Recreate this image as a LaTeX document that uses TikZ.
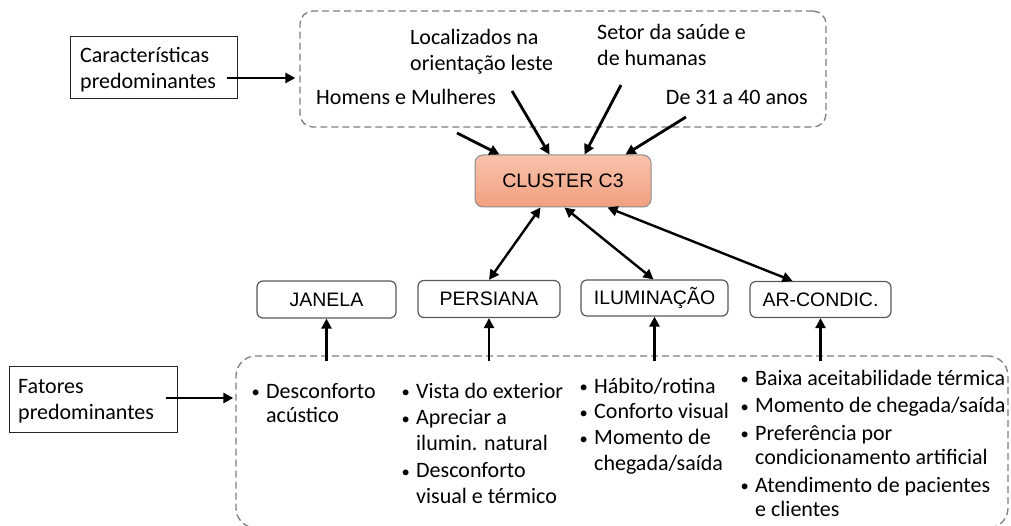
\documentclass[tikz,border=0pt]{standalone}
\usepackage{fontspec}
\setmainfont{Carlito}
\newfontfamily\arialfam{Liberation Sans}
\usetikzlibrary{arrows.meta,calc}
\newcommand\mybul{\makebox[21pt][c]{\raisebox{0.5pt}{\scalebox{0.75}{\textbullet}}}}
\newcommand\mycont{\hspace*{21pt}}
\newcommand\mystrut{\rule{0pt}{17pt}}
\definecolor{dashgray}{HTML}{7F7F7F}
\definecolor{boxgray}{HTML}{595959}
\definecolor{cltop}{HTML}{F7C3AB}
\definecolor{clbot}{HTML}{F2A07F}
\begin{document}
\begin{tikzpicture}[x=1pt,y=-1pt,
  dbox/.style={draw=dashgray, line width=1.3pt, dash pattern=on 7pt off 4pt, inner sep=0pt},
  txt/.style={inner sep=0pt, align=left, font=\fontsize{22}{24.5}\selectfont},
  ttxt/.style={inner sep=0pt, align=left, font=\fontsize{22}{26}\selectfont},
  sqbox/.style={draw=black!85, line width=1pt, inner sep=0pt},
  fbox/.style={draw=boxgray, line width=1.2pt, rounded corners=6pt, inner sep=0pt, font=\arialfam\fontsize{19.5}{22}\selectfont},
  arr/.style={line width=2.8pt, -{Triangle[length=10pt,width=10pt]}},
  darr/.style={line width=2.4pt, {Triangle[length=10pt,width=10pt]}-{Triangle[length=10pt,width=10pt]}},
]
\useasboundingbox (0,0) rectangle (1011,526);
\fill[white] (0,0) rectangle (1011,526);

% dashed group boxes
\node[dbox, rounded corners=13pt, minimum width=526pt, minimum height=116pt] (tb) at (563,69) {};
\node[dbox, rounded corners=20pt, minimum width=772pt, minimum height=172pt] (fb) at (622,442) {};

% left label boxes
\node[sqbox, minimum width=167pt, minimum height=62pt] (cara) at (153.5,68) {};
\node[ttxt, anchor=north west] (caratxt) at (80,45) {\mystrut Características\\predominantes};
\node[sqbox, minimum width=168pt, minimum height=66pt] (fato) at (93,399) {};
\node[ttxt, anchor=north west] (fatotxt) at (18,376) {\mystrut Fatores\\predominantes};

% top texts
\node[ttxt, anchor=north west] (loc) at (410,27) {\mystrut Localizados na\\orientação leste};
\node[ttxt, anchor=north west] (set) at (597,22) {\mystrut Setor da saúde e\\de humanas};
\node[ttxt, anchor=base west] (hom) at (316,105) {Homens e Mulheres};
\node[ttxt, anchor=base east] (de31) at (808,105) {De 31 a 40 anos};

% cluster
\node[draw=black!45, line width=1pt, rounded corners=8pt, top color=cltop, bottom color=clbot,
      minimum width=176pt, minimum height=52pt, inner sep=0pt,
      font=\arialfam\fontsize{19.5}{22}\selectfont] (cl) at (563,181) {CLUSTER C3};

% factor boxes
\node[fbox, minimum width=139pt, minimum height=37pt] (ja) at (326.5,299.5) {JANELA};
\node[fbox, minimum width=142pt, minimum height=37pt] (pe) at (489,299) {PERSIANA};
\node[fbox, minimum width=147pt, minimum height=36pt] (il) at (654.5,298) {ILUMINAÇÃO};
\node[fbox, minimum width=141pt, minimum height=36pt] (ar) at (820.5,299.5) {AR-CONDIC.};

% bullet lists
\node[txt, anchor=north west] (jat) at (245,381) {\mystrut\mybul Desconforto\\\mycont acústico};
\node[txt, anchor=north west] (pet) at (395,381) {\mystrut\mybul Vista do exterior\\[2pt]\mybul Apreciar a\\[1pt]\mycont ilumin. natural\\[3pt]\mybul Desconforto\\[1pt]\mycont visual e térmico};
\node[txt, anchor=north west] (ilt) at (573,376) {\mystrut\mybul Hábito/rotina\\[1pt]\mybul Conforto visual\\[1.5pt]\mybul Momento de\\[1.5pt]\mycont chegada/saída};
\node[txt, anchor=north west] (art) at (734,368) {\mystrut\mybul Baixa aceitabilidade térmica\\[3pt]\mybul Momento de chegada/saída\\[3pt]\mybul Preferência por\\\mycont condicionamento artificial\\[3pt]\mybul Atendimento de pacientes\\\mycont e clientes};

% arrows from left boxes
\coordinate (ca) at ($(cara.east)+(-11,10)$);
\draw[arr, shorten >=4pt] (ca) -- (ca -| tb.west);
\coordinate (fa) at ($(fato.east)+(-12,-1)$);
\draw[arr, shorten >=2pt] (fa) -- (fa -| fb.west);

% arrows into cluster
\coordinate (hs) at (457,133);
\coordinate (ls) at (512,91);
\coordinate (ss) at (621,85);
\coordinate (ds) at (686,117);
\draw[arr] (hs) -- ([xshift=25pt]cl.north west);
\draw[arr] (ls) -- ([xshift=75pt]cl.north west);
\draw[arr] (ss) -- ([xshift=110pt]cl.north west);
\draw[arr] (ds) -- ([xshift=151pt]cl.north west);

% double arrows
\draw[darr] ([xshift=66pt]cl.south west) -- (pe.north);
\draw[darr] ([xshift=90pt]cl.south west) -- ([xshift=-1pt]il.north);
\draw[darr] ([xshift=133pt]cl.south west) -- ([xshift=-28pt]ar.north);

% vertical arrows
\coordinate (jb) at (ja.south |- fb.north);
\coordinate (pb) at (pe.south |- fb.north);
\coordinate (ib) at (il.south |- fb.north);
\coordinate (ab) at (ar.south |- fb.north);
\draw[arr] ([yshift=-6pt]jb) -- (ja.south);
\draw[arr] ([yshift=-6pt]pb) -- (pe.south);
\draw[arr] ([yshift=-6pt]ib) -- (il.south);
\draw[arr] ([yshift=-6pt]ab) -- (ar.south);
\end{tikzpicture}
\end{document}
